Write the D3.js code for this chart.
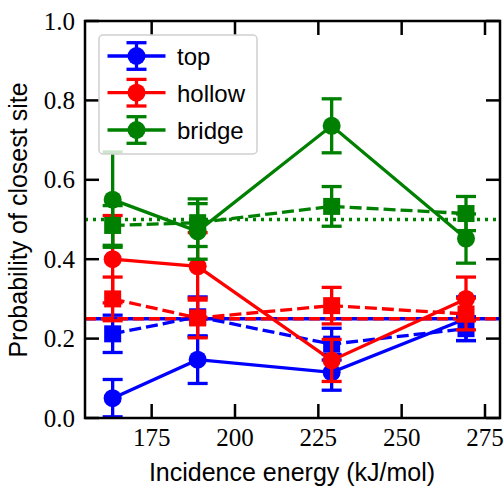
<!DOCTYPE html>
<html><head><meta charset="utf-8">
<script src="https://cdn.jsdelivr.net/npm/d3@7"></script>
<style>body{margin:0;background:#fff}svg{display:block}</style>
</head><body>
<svg id="chart" width="504" height="486"></svg>
<script>
const energies = [163.3, 188.8, 229.0, 269.3];
const topSolid = [0.050, 0.147, 0.115, 0.250];
const topSolidErr = [0.047, 0.060, 0.045, 0.055];
const topDashed = [0.212, 0.255, 0.186, 0.225];
const topDashedErr = [0.047, 0.050, 0.040, 0.030];
const hollowSolid = [0.400, 0.382, 0.145, 0.300];
const hollowSolidErr = [0.110, 0.085, 0.053, 0.055];
const hollowDashed = [0.300, 0.252, 0.283, 0.262];
const hollowDashedErr = [0.055, 0.050, 0.046, 0.040];
const bridgeSolid = [0.550, 0.470, 0.736, 0.452];
const bridgeSolidErr = [0.120, 0.070, 0.068, 0.062];
const bridgeDashed = [0.485, 0.492, 0.533, 0.515];
const bridgeDashedErr = [0.050, 0.060, 0.050, 0.043];
const refTopHollow = 0.25;
const refBridge = 0.5;
const xTicks = [175, 200, 225, 250, 275];
const yTicks = [0.0, 0.2, 0.4, 0.6, 0.8, 1.0];
const legendLabels = ["top", "hollow", "bridge"];
const colors = {top: "#0000ff", hollow: "#ff0000", bridge: "#008000"};

const SERIF = "'Liberation Serif', 'DejaVu Serif', serif";
const SANS = "'Liberation Sans', 'DejaVu Sans', sans-serif";

const svg = d3.select("#chart");
const L = 85, R = 500, T = 21, B = 418;
const x = d3.scaleLinear().domain([155, 279.5]).range([L, R]);
const y = d3.scaleLinear().domain([0, 1]).range([B, T]);
const LW = 3.3;

// reference lines
const ref = svg.append("g");
ref.append("line").attr("x1", L).attr("x2", R).attr("y1", y(refTopHollow)).attr("y2", y(refTopHollow))
  .attr("stroke", colors.top).attr("stroke-width", LW);
ref.append("line").attr("x1", L).attr("x2", R).attr("y1", y(refTopHollow)).attr("y2", y(refTopHollow))
  .attr("stroke", colors.hollow).attr("stroke-width", LW).attr("stroke-dasharray", "11,5");
ref.append("line").attr("x1", L).attr("x2", R).attr("y1", y(refBridge)).attr("y2", y(refBridge))
  .attr("stroke", colors.bridge).attr("stroke-width", LW).attr("stroke-dasharray", "3,5");

const series = [
  {vals: topSolid, err: topSolidErr, color: colors.top, dashed: false},
  {vals: topDashed, err: topDashedErr, color: colors.top, dashed: true},
  {vals: hollowSolid, err: hollowSolidErr, color: colors.hollow, dashed: false},
  {vals: hollowDashed, err: hollowDashedErr, color: colors.hollow, dashed: true},
  {vals: bridgeSolid, err: bridgeSolidErr, color: colors.bridge, dashed: false},
  {vals: bridgeDashed, err: bridgeDashedErr, color: colors.bridge, dashed: true}
];
const line = d3.line().x(d => x(d.e)).y(d => y(d.v));
const cap = 10;
series.forEach(s => {
  const pts = energies.map((e, i) => ({e, v: s.vals[i], err: s.err[i]}));
  const g = svg.append("g");
  g.append("path").datum(pts).attr("d", line).attr("fill", "none")
    .attr("stroke", s.color).attr("stroke-width", LW)
    .attr("stroke-dasharray", s.dashed ? "12,5" : null);
  pts.forEach(p => {
    const cx = x(p.e), y1 = y(p.v + p.err), y0 = y(p.v - p.err);
    g.append("line").attr("x1", cx).attr("x2", cx).attr("y1", y1).attr("y2", y0)
      .attr("stroke", s.color).attr("stroke-width", LW);
    [y1, y0].forEach(yy => g.append("line").attr("x1", cx - cap).attr("x2", cx + cap)
      .attr("y1", yy).attr("y2", yy).attr("stroke", s.color).attr("stroke-width", LW));
    if (s.dashed) {
      g.append("rect").attr("x", cx - 8.5).attr("y", y(p.v) - 8.5).attr("width", 17).attr("height", 17)
        .attr("fill", s.color);
    } else {
      g.append("circle").attr("cx", cx).attr("cy", y(p.v)).attr("r", 9).attr("fill", s.color);
    }
  });
});

// frame and ticks
const ax = svg.append("g");
ax.append("rect").attr("x", L).attr("y", T).attr("width", R - L).attr("height", B - T)
  .attr("fill", "none").attr("stroke", "#000").attr("stroke-width", 2.5);
const tl = 14;
xTicks.forEach(t => {
  const xx = x(t);
  ax.append("line").attr("x1", xx).attr("x2", xx).attr("y1", B).attr("y2", B - tl).attr("stroke", "#000").attr("stroke-width", 2.5);
  ax.append("line").attr("x1", xx).attr("x2", xx).attr("y1", T).attr("y2", T + tl).attr("stroke", "#000").attr("stroke-width", 2.5);
  ax.append("text").style("font-family", SERIF).style("font-size", "25px")
    .attr("x", xx).attr("y", 446).attr("text-anchor", "middle").text(t);
});
yTicks.forEach(t => {
  const yy = y(t);
  ax.append("line").attr("x1", L).attr("x2", L + tl).attr("y1", yy).attr("y2", yy).attr("stroke", "#000").attr("stroke-width", 2.5);
  ax.append("line").attr("x1", R).attr("x2", R - tl).attr("y1", yy).attr("y2", yy).attr("stroke", "#000").attr("stroke-width", 2.5);
  ax.append("text").style("font-family", SERIF).style("font-size", "25px")
    .attr("x", 75).attr("y", yy + 8.5).attr("text-anchor", "end").text(t.toFixed(1));
});

svg.append("text").style("font-family", SANS).style("font-size", "25px")
  .attr("x", 292).attr("y", 481).attr("text-anchor", "middle").text("Incidence energy (kJ/mol)");
svg.append("text").style("font-family", SANS).style("font-size", "25px")
  .attr("transform", "translate(26.5,220) rotate(-90)").attr("text-anchor", "middle").text("Probability of closest site");

// legend
const lg = svg.append("g");
lg.append("rect").attr("x", 99).attr("y", 35).attr("width", 158).attr("height", 119).attr("rx", 4)
  .attr("fill", "#fff").attr("fill-opacity", 0.8).attr("stroke", "#d0d0d0").attr("stroke-width", 1.5);
const legendColors = [colors.top, colors.hollow, colors.bridge];
const rowY = [56, 92.7, 130];
legendLabels.forEach((lab, i) => {
  const yy = rowY[i], c = legendColors[i], mx = 136.5;
  lg.append("line").attr("x1", 107.5).attr("x2", 165.5).attr("y1", yy).attr("y2", yy).attr("stroke", c).attr("stroke-width", LW);
  lg.append("line").attr("x1", mx).attr("x2", mx).attr("y1", yy - 13.3).attr("y2", yy + 13.3).attr("stroke", c).attr("stroke-width", LW);
  [yy - 13.3, yy + 13.3].forEach(v => lg.append("line").attr("x1", mx - cap).attr("x2", mx + cap)
    .attr("y1", v).attr("y2", v).attr("stroke", c).attr("stroke-width", LW));
  lg.append("circle").attr("cx", mx).attr("cy", yy).attr("r", 9).attr("fill", c);
  lg.append("text").style("font-family", SANS).style("font-size", "24px")
    .attr("x", 177).attr("y", yy + 9).text(lab);
});
</script>
</body></html>
